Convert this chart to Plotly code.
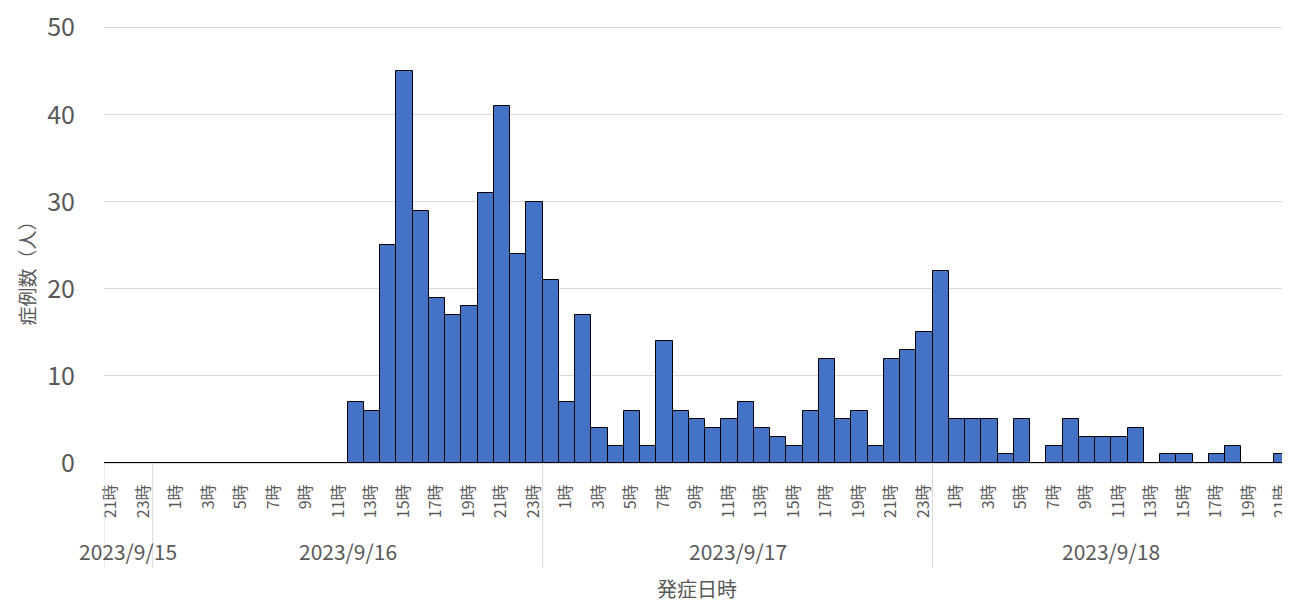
import plotly.graph_objects as go

# Categories: one bar per hour, 2023/9/15 21時 .. 2023/9/18 21時
dates = ["2023/9/15"] * 3 + ["2023/9/16"] * 24 + ["2023/9/17"] * 24 + ["2023/9/18"] * 22
hours = [21, 22, 23] + list(range(24)) + list(range(24)) + list(range(22))

counts_0915 = [0, 0, 0]
counts_0916 = [0, 0, 0, 0, 0, 0, 0, 0, 0, 0, 0, 0,
               7, 6, 25, 45, 29, 19, 17, 18, 31, 41, 24, 30]
counts_0917 = [21, 7, 17, 4, 2, 6, 2, 14, 6, 5, 4, 5,
               7, 4, 3, 2, 6, 12, 5, 6, 2, 12, 13, 15]
counts_0918 = [22, 5, 5, 5, 1, 5, 0, 2, 5, 3, 3, 3,
               4, 0, 1, 1, 0, 1, 2, 0, 0, 1]
counts = counts_0915 + counts_0916 + counts_0917 + counts_0918

y_title = "症例数（人）"
x_title = "発症日時"

FONT = "Noto Sans CJK JP"
GRAY = "#595959"
LINE = "#d9d9d9"

idx = list(range(len(counts)))
tickvals = [i for i, h in zip(idx, hours) if h % 2 == 1]
ticktext = [f"{hours[i]}時" for i in tickvals]

fig = go.Figure()
fig.add_trace(go.Bar(
    x=idx, y=counts,
    marker=dict(color="#4472C4", line=dict(color="#000000", width=1)),
    hoverinfo="x+y",
))

# date groups
groups = []
for i, d in enumerate(dates):
    if not groups or groups[-1][0] != d:
        groups.append([d, i, i])
    else:
        groups[-1][2] = i

annotations = []
shapes = []
for d, s, e in groups:
    annotations.append(dict(
        x=(s + e) / 2, y=-0.202, xref="x", yref="paper",
        text=d, showarrow=False, xanchor="center", yanchor="middle",
        font=dict(family=FONT, size=21, color=GRAY),
    ))
    shapes.append(dict(type="line", xref="x", yref="paper",
                       x0=s - 0.5, x1=s - 0.5, y0=0, y1=-0.24,
                       line=dict(color=LINE, width=1)))
shapes.append(dict(type="line", xref="x", yref="paper",
                   x0=len(counts) - 0.5, x1=len(counts) - 0.5, y0=0, y1=-0.24,
                   line=dict(color=LINE, width=1)))

annotations.append(dict(
    x=0.5, y=-0.288, xref="paper", yref="paper", text=x_title,
    showarrow=False, xanchor="center", yanchor="middle",
    font=dict(family=FONT, size=20, color=GRAY),
))
annotations.append(dict(
    x=0, y=0.445, xref="paper", yref="paper", text=y_title,
    showarrow=False, xanchor="center", yanchor="middle", xshift=-77,
    textangle=-90, font=dict(family=FONT, size=19, color=GRAY),
))

# page body has an 8px margin, so the figure is sized to fit the window
fig.update_layout(
    width=1282, height=595,
    margin=dict(l=96, r=0, t=18, b=140),
    paper_bgcolor="white", plot_bgcolor="white",
    bargap=0, showlegend=False,
    font=dict(family=FONT, color=GRAY),
    xaxis=dict(
        range=[-0.5, len(counts) - 0.5],
        tickmode="array", tickvals=tickvals, ticktext=ticktext,
        tickangle=-90, tickfont=dict(family=FONT, size=16, color=GRAY),
        ticklabelstandoff=14, ticklabelshift=-1,
        automargin=False, ticklabeloverflow="allow",
        showgrid=False, zeroline=False,
        showline=True, linecolor=LINE, linewidth=1,
        ticks="",
    ),
    yaxis=dict(
        range=[0, 50.2], tickvals=[0, 10, 20, 30, 40, 50],
        tickfont=dict(family=FONT, size=25, color=GRAY),
        showgrid=True, gridcolor=LINE, gridwidth=1,
        zeroline=False, showline=False, ticks="",
        ticklabelstandoff=28, automargin=False, ticklabeloverflow="allow",
    ),
    annotations=annotations,
    shapes=shapes,
)

fig.write_html("out.html")
